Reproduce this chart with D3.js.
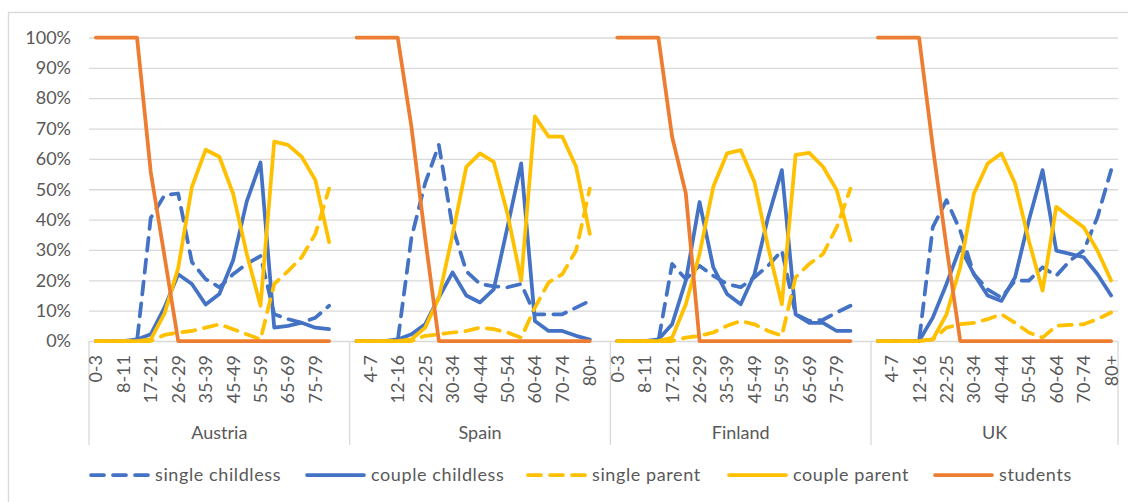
<!DOCTYPE html>
<html>
<head>
<meta charset="utf-8">
<script src="https://cdn.jsdelivr.net/npm/d3@7"></script>
<style>
  body { margin: 0; background: #fff; }
  svg text { font-family: Lato, "Liberation Sans", sans-serif; fill: #595959; }
</style>
</head>
<body>
<svg id="chart" width="1128" height="502"></svg>
<script>
// categories
var countries = ["Austria", "Spain", "Finland", "UK"];
var ages = ["0-3", "4-7", "8-11", "12-16", "17-21", "22-25", "26-29", "30-34", "35-39",
            "40-44", "45-49", "50-54", "55-59", "60-64", "65-69", "70-74", "75-79", "80+"];

// one row per country (Austria, Spain, Finland, UK), values in %
var singleChildless = [
  [0, 0, 0, 0, 40.5, 48, 48.6, 26, 20.4, 17.7, 22, 25.4, 28, 8.8, 7.2, 6, 7.7, 11.6],
  [0, 0, 0, 0, 34, 52, 64.6, 37.5, 23, 18.8, 18, 17.7, 18.8, 8.8, 8.8, 8.8, 11, 13.2],
  [0, 0, 0, 0, 25.4, 20.4, 24.8, 21.5, 18.8, 17.7, 21, 24.8, 29.8, 8.8, 6.6, 7, 9.4, 11.6],
  [0, 0, 0, 0, 37.5, 46.4, 36.4, 22, 17, 14.3, 19.9, 19.9, 24.3, 21.5, 26.5, 29.8, 40.8, 56.3]
];
var coupleChildless = [
  [0, 0, 0, 0.5, 2.2, 11, 22, 18.8, 12, 15.5, 26.5, 46, 58.8, 4.4, 5, 6, 4.4, 3.9],
  [0, 0, 0, 0.5, 2.2, 5.5, 14.3, 22.6, 15, 12.7, 17, 37.5, 58.5, 6.6, 3.3, 3.3, 1.7, 0.5],
  [0, 0, 0, 0.5, 5.5, 19.9, 45.8, 24.3, 15.5, 12.1, 22, 40.8, 56.3, 8.8, 6, 6, 3.3, 3.3],
  [0, 0, 0, 0, 7.7, 18.8, 30.9, 22, 15, 13.2, 21, 39.7, 56.3, 29.8, 28.7, 27.6, 22, 15]
];
var singleParent = [
  [0, 0, 0, 0, 0, 2, 2.8, 3.3, 4.4, 5.5, 3.9, 2.2, 0.5, 18.8, 23, 27.6, 35.3, 50.2],
  [0, 0, 0, 0, 0, 1.7, 2.2, 2.8, 3.3, 4.4, 3.9, 2.8, 1.1, 11, 19.3, 22, 29.8, 50.2],
  [0, 0, 0, 0, 0, 1.1, 1.7, 2.8, 5, 6.6, 5.5, 3.3, 1.7, 21, 25.4, 28.7, 37.5, 50.2],
  [0, 0, 0, 0, 0.5, 4.4, 5.5, 6, 7.2, 8.8, 6, 2.8, 1.1, 5, 5.3, 5.5, 7.2, 9.4]
];
var coupleParent = [
  [0, 0, 0, 0, 0.5, 9, 24, 50.8, 63, 60.7, 48.6, 28.7, 11.6, 65.7, 64.6, 60.7, 53, 32.6],
  [0, 0, 0, 0, 0.5, 4.4, 14.3, 35, 57.4, 61.8, 59, 42, 19.9, 74, 67.3, 67.3, 57.4, 35.3],
  [0, 0, 0, 0, 1.1, 12.1, 28.7, 50.8, 61.8, 62.9, 52.4, 30.9, 12.1, 61.3, 62, 57.4, 49.7, 33.1],
  [0, 0, 0, 0, 0.5, 8.8, 24.3, 48.6, 58.5, 61.8, 51.9, 33.1, 16.6, 44.2, 40.8, 37.5, 29.8, 19.9]
];
var students = [
  [100, 100, 100, 100, 55.7, 28, 0, 0, 0, 0, 0, 0, 0, 0, 0, 0, 0, 0],
  [100, 100, 100, 100, 70.6, 34, 0, 0, 0, 0, 0, 0, 0, 0, 0, 0, 0, 0],
  [100, 100, 100, 100, 67.3, 48.6, 0, 0, 0, 0, 0, 0, 0, 0, 0, 0, 0, 0],
  [100, 100, 100, 100, 64, 31, 0, 0, 0, 0, 0, 0, 0, 0, 0, 0, 0, 0]
];
var yTicks = [0, 10, 20, 30, 40, 50, 60, 70, 80, 90, 100];

var series = [
  { name: "single childless", data: singleChildless, color: "#4472C4", dashed: true },
  { name: "couple childless", data: coupleChildless, color: "#4472C4", dashed: false },
  { name: "single parent", data: singleParent, color: "#FFC000", dashed: true },
  { name: "couple parent", data: coupleParent, color: "#FFC000", dashed: false },
  { name: "students", data: students, color: "#ED7D31", dashed: false }
];

var svg = d3.select("#chart");
var plotL = 89, plotR = 1118, plotT = 37.5, plotB = 341;
var lineW = 3.75, dash = "13,9";

// chart frame
svg.append("rect")
  .attr("x", 8.5).attr("y", 12.5).attr("width", 1130).attr("height", 500)
  .attr("fill", "none").attr("stroke", "#d9d9d9").attr("stroke-width", 1.3);

// category keys: each country followed by a blank slot (Excel gap), except the last
var keys = [];
countries.forEach(function(c, ci) {
  ages.forEach(function(a) { keys.push(c + "|" + a); });
  if (ci < countries.length - 1) keys.push(c + "|");
});

var x = d3.scaleBand().domain(keys).range([plotL, plotR]);
var y = d3.scaleLinear().domain([0, 100]).range([plotB, plotT]);
var cx = function(k) { return x(k) + x.bandwidth() / 2; };

// gridlines + y labels
var yAxis = svg.append("g")
  .attr("transform", "translate(" + plotL + ",0)")
  .call(d3.axisLeft(y).tickValues(yTicks).tickFormat(function(d) { return d + "%"; })
    .tickSize(-(plotR - plotL)).tickPadding(18));
yAxis.select(".domain").remove();
yAxis.selectAll("line").attr("stroke", "#d9d9d9").attr("stroke-width", 1.3);
yAxis.selectAll("text").style("font-size", "18px").style("font-family", "Lato, sans-serif").attr("fill", "#595959");

// category axis: dividers between countries
var dividers = [plotL];
countries.forEach(function(c, ci) {
  var lastKey = ci < countries.length - 1 ? c + "|" : c + "|" + ages[ages.length - 1];
  dividers.push(x(lastKey) + x.bandwidth());
});
svg.append("g").selectAll("line").data(dividers).join("line")
  .attr("x1", function(d) { return d; }).attr("x2", function(d) { return d; })
  .attr("y1", plotB).attr("y2", 445)
  .attr("stroke", "#d9d9d9").attr("stroke-width", 1.3);

// age labels, every second category across the whole axis
svg.append("g").selectAll("text")
  .data(keys.map(function(k, i) { return { k: k, i: i }; })
    .filter(function(d) { return d.i % 2 === 0 && d.k.split("|")[1] !== ""; }))
  .join("text")
  .attr("transform", function(d) { return "translate(" + cx(d.k) + ",355) rotate(-90)"; })
  .attr("dy", "0.36em")
  .attr("text-anchor", "end")
  .style("font-size", "18px")
  .text(function(d) { return d.k.split("|")[1]; });

// country labels
svg.append("g").selectAll("text").data(countries).join("text")
  .attr("x", function(c, ci) { return (dividers[ci] + dividers[ci + 1]) / 2; })
  .attr("y", 439)
  .attr("text-anchor", "middle")
  .style("font-size", "18px")
  .text(function(c) { return c; });

// lines
var line = d3.line()
  .x(function(d) { return cx(d.k); })
  .y(function(d) { return y(d.v); });

series.forEach(function(s) {
  var g = svg.append("g");
  countries.forEach(function(c, ci) {
    var pts = ages.map(function(a, ai) { return { k: c + "|" + a, v: s.data[ci][ai] }; });
    g.append("path")
      .attr("d", line(pts))
      .attr("fill", "none")
      .attr("stroke", s.color)
      .attr("stroke-width", lineW)
      .attr("stroke-linejoin", "round")
      .attr("stroke-linecap", "round")
      .attr("stroke-dasharray", s.dashed ? dash : null);
  });
});

// legend
var legendX = [89, 305, 526, 727, 933];
var legend = svg.append("g").selectAll("g").data(series).join("g")
  .attr("transform", function(d, i) { return "translate(" + legendX[i] + ",475)"; });
legend.append("line")
  .attr("x1", 2).attr("x2", 59).attr("y1", 0).attr("y2", 0)
  .attr("stroke", function(d) { return d.color; })
  .attr("stroke-width", lineW)
  .attr("stroke-linecap", "round")
  .attr("stroke-dasharray", function(d) { return d.dashed ? dash : null; });
legend.append("text")
  .attr("x", 66).attr("y", 0).attr("dy", "0.35em")
  .style("font-size", "18px")
  .style("letter-spacing", "0.6px")
  .text(function(d) { return d.name; });
</script>
</body>
</html>
